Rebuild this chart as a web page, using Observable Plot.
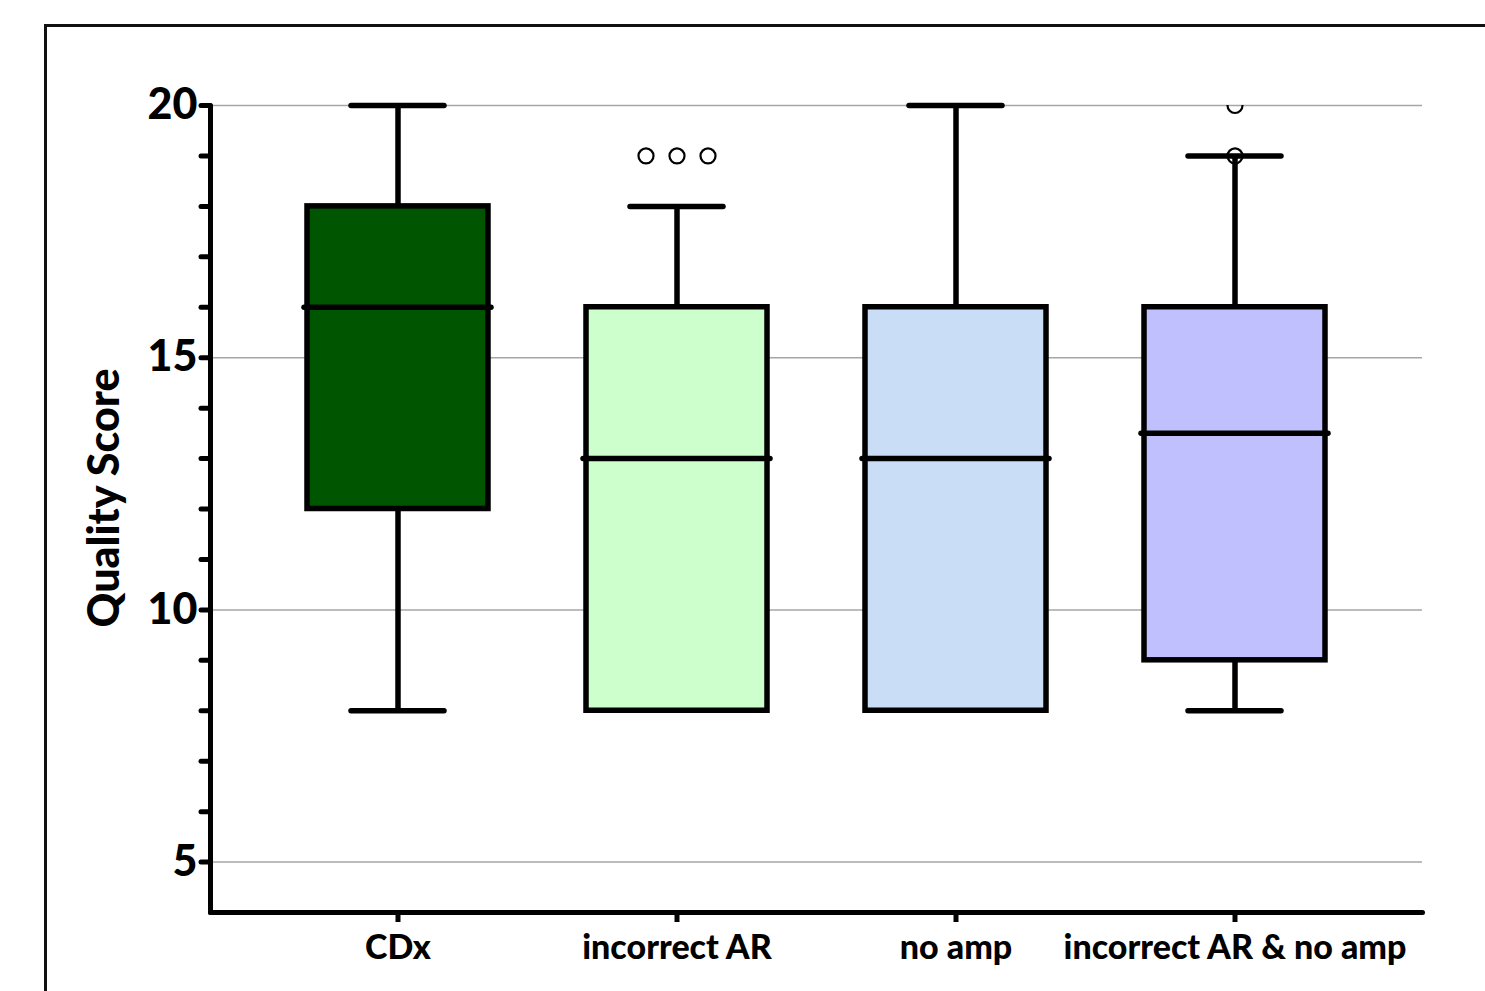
<!DOCTYPE html>
<html>
<head>
<meta charset="utf-8">
<script src="https://cdn.jsdelivr.net/npm/d3@7"></script>
<script src="https://cdn.jsdelivr.net/npm/@observablehq/plot@0.6"></script>
<style>
  html, body { margin: 0; padding: 0; background: #fff; overflow: hidden; }
  #wrap { position: relative; width: 1485px; height: 991px; }
  #border { position: absolute; left: 44px; top: 24px; width: 1500px; height: 1000px; border: 3px solid #111; box-sizing: border-box; }
  #chart { position: absolute; left: 0; top: 0; }
</style>
</head>
<body>
<div id="wrap">
  <div id="border"></div>
  <div id="chart"></div>
</div>
<script>
// ---- data ----
const categories = ["CDx", "incorrect AR", "no amp", "incorrect AR & no amp"];
const whiskerLow = [8, 8, 8, 8];
const q1 = [12, 8, 8, 9];
const median = [16, 13, 13, 13.5];
const q3 = [18, 16, 16, 16];
const whiskerHigh = [20, 18, 20, 19];
const fills = ["#005500", "#ccffcc", "#c9ddf7", "#c0c0ff"];
const outlierGroup = ["incorrect AR", "incorrect AR", "incorrect AR", "incorrect AR & no amp", "incorrect AR & no amp"];
const outlierValue = [19, 19, 19, 19, 20];
const yTicks = [5, 10, 15, 20];

// ---- build tables ----
const boxes = categories.map((c, i) => ({
  cat: c, lo: whiskerLow[i], q1: q1[i], med: median[i], q3: q3[i], hi: whiskerHigh[i], fill: fills[i]
}));
// dodge identical outliers within a group horizontally
const outliers = outlierGroup.map((g, i) => ({cat: g, v: outlierValue[i]}));
const counts = d3.rollup(outliers, v => v.length, d => d.cat, d => d.v);
const seen = new Map();
outliers.forEach(d => {
  const key = d.cat + "|" + d.v;
  const k = seen.get(key) || 0; seen.set(key, k + 1);
  const n = counts.get(d.cat).get(d.v);
  d.off = k - (n - 1) / 2;
});
const offsets = Array.from(new Set(outliers.map(d => d.off)));

const font = "Lato, 'Open Sans', sans-serif";
const SW = 5.5;

const plot = Plot.plot({
  width: 1485,
  height: 991,
  marginLeft: 210,
  marginRight: 63,
  marginTop: 105,
  marginBottom: 79,
  style: {fontFamily: font, fontWeight: "900", background: "transparent", color: "#000"},
  x: {type: "band", domain: categories, paddingInner: 0.35, paddingOuter: 0.34, label: null},
  y: {domain: [4, 20], label: null},
  marks: [
    Plot.ruleY(yTicks, {stroke: "#a6a6a6", strokeWidth: 1.5}),
    // outliers
    ...offsets.map(o => Plot.dot(outliers.filter(d => d.off === o), {
      x: "cat", y: "v", r: 7.5, fill: "none", stroke: "#000", strokeWidth: 2.2, dx: o * 31, clip: true
    })),
    // whiskers
    Plot.ruleX(boxes.filter(d => d.hi > d.q3), {x: "cat", y1: "q3", y2: "hi", stroke: "#000", strokeWidth: SW}),
    Plot.ruleX(boxes.filter(d => d.lo < d.q1), {x: "cat", y1: "lo", y2: "q1", stroke: "#000", strokeWidth: SW}),
    Plot.tickY(boxes.filter(d => d.hi > d.q3), {x: "cat", y: "hi", stroke: "#000", strokeWidth: SW, insetLeft: 44, insetRight: 44, strokeLinecap: "round"}),
    Plot.tickY(boxes.filter(d => d.lo < d.q1), {x: "cat", y: "lo", stroke: "#000", strokeWidth: SW, insetLeft: 44, insetRight: 44, strokeLinecap: "round"}),
    // boxes
    Plot.barY(boxes, {x: "cat", y1: "q1", y2: "q3", fill: "fill", stroke: "#000", strokeWidth: SW}),
    Plot.tickY(boxes, {x: "cat", y: "med", stroke: "#000", strokeWidth: SW, insetLeft: -3, insetRight: -3, strokeLinecap: "round"}),
    // axes
    Plot.axisY({
      ticks: d3.range(5, 21), tickSize: 9, strokeWidth: 5, tickPadding: 4, strokeLinecap: "round",
      tickFormat: d => (yTicks.includes(d) ? d : ""), fontSize: 43, label: null
    }),
    Plot.axisX({tickSize: 10, strokeWidth: 5, tickPadding: 12, fontSize: 34, label: null}),
    Plot.frame({anchor: "left", stroke: "#000", strokeWidth: 5, strokeLinecap: "round"}),
    Plot.frame({anchor: "bottom", stroke: "#000", strokeWidth: 5, strokeLinecap: "round"}),
    Plot.text(["Quality Score"], {frameAnchor: "left", textAnchor: "middle", dx: -105, dy: -11, rotate: -90, fontSize: 43, fontWeight: "900", fill: "#000"})
  ]
});
document.getElementById("chart").appendChild(plot);
</script>
</body>
</html>
